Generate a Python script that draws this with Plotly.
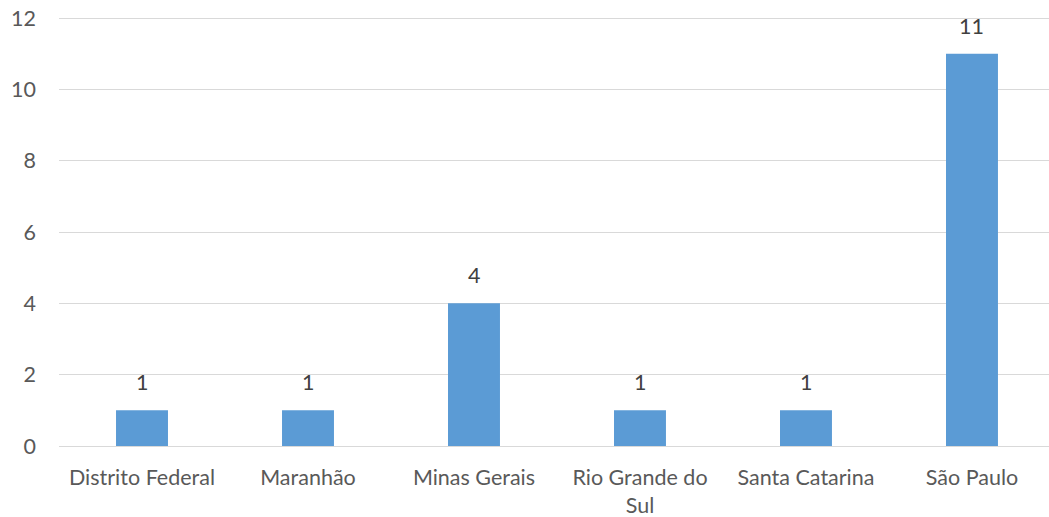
import plotly.graph_objects as go

categories = ["Distrito Federal", "Maranhão", "Minas Gerais", "Rio Grande do Sul", "Santa Catarina", "São Paulo"]
tick_labels = ["Distrito Federal", "Maranhão", "Minas Gerais", "Rio Grande do<br>Sul", "Santa Catarina", "São Paulo"]
values = [1, 1, 4, 1, 1, 11]

FONT = "Lato, 'Open Sans', sans-serif"
GREY = "#595959"
FS = 21.5

fig = go.Figure()
fig.add_trace(go.Bar(
    x=categories, y=values,
    marker=dict(color="#5B9BD5", line=dict(width=0)),
    width=0.313,
    hoverinfo="skip",
))

for c, v in zip(categories, values):
    fig.add_annotation(x=c, y=v, text=str(v), showarrow=False,
                       yanchor="bottom", yshift=13,
                       font=dict(family=FONT, size=FS, color="#404040"))

fig.update_layout(
    width=1049, height=517,
    margin=dict(l=59, r=0, t=17, b=71),
    plot_bgcolor="white", paper_bgcolor="white",
    showlegend=False,
    font=dict(family=FONT, size=FS, color=GREY),
    xaxis=dict(
        type="category",
        tickvals=categories, ticktext=tick_labels,
        range=[-0.5, 5.464],
        showgrid=False, showline=True, linecolor="#d9d9d9", linewidth=1,
        ticks="", ticklabelstandoff=12,
        tickfont=dict(family=FONT, size=FS, color=GREY),
    ),
    yaxis=dict(
        range=[0, 12.03], tickvals=[0, 2, 4, 6, 8, 10, 12],
        showgrid=True, gridcolor="#d9d9d9", gridwidth=1,
        zeroline=False, showline=False,
        ticks="", ticklabelstandoff=22,
        tickfont=dict(family=FONT, size=FS, color=GREY),
    ),
)

fig.write_html("out.html", config={"displayModeBar": False},
               post_script="document.body.style.margin='0';document.body.style.overflow='hidden';")
